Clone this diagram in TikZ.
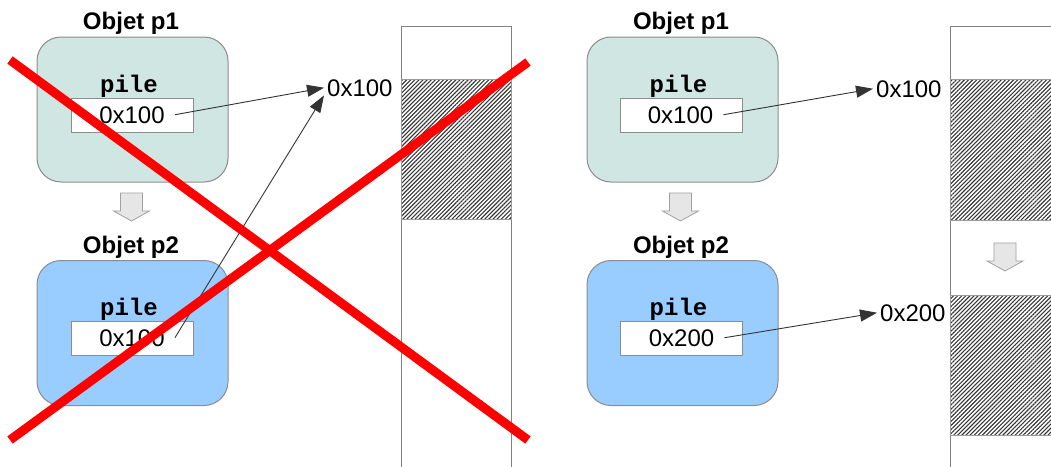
\documentclass[tikz,border=0pt]{standalone}
\usepackage{fontspec}
\setmainfont{Liberation Sans}
\setmonofont{Liberation Mono}
\usetikzlibrary{arrows.meta,patterns.meta}

\definecolor{tealfill}{RGB}{208,230,227}
\definecolor{bluefill}{RGB}{153,204,255}
\definecolor{boxborder}{RGB}{140,140,140}
\definecolor{colborder}{RGB}{130,130,130}
\definecolor{hatch}{RGB}{55,55,55}
\definecolor{movefill}{RGB}{230,230,230}
\definecolor{moveborder}{RGB}{160,160,160}

\tikzset{
  obj/.style={draw=boxborder, line width=1pt, rounded corners=24pt,
    minimum width=191pt, minimum height=145pt, inner sep=0pt},
  slot/.style={draw=boxborder, fill=white, line width=1pt,
    minimum width=122pt, minimum height=34pt, inner sep=0pt},
  title/.style={font=\fontsize{24}{28}\selectfont\bfseries, inner sep=0pt, anchor=base},
  field/.style={font=\fontsize{24}{28}\selectfont\ttfamily\bfseries, inner sep=0pt, anchor=base},
  val/.style={font=\fontsize{24}{28}\selectfont, inner xsep=10pt, inner ysep=0pt, anchor=base},
  addr/.style={font=\fontsize{24}{28}\selectfont, inner xsep=3pt, inner ysep=2pt, anchor=base west},
  ptr/.style={draw=black!80, line width=0.9pt, -{Triangle[length=17pt,width=12pt]}},
  memcol/.style={draw=colborder, line width=1pt},
  used/.style={pattern={Lines[angle=45,distance=2.9pt,line width=1.1pt]},
    pattern color=hatch, draw=colborder!80, line width=0.6pt},
  cross/.style={draw=red, line width=9pt},
  shiftdown/.pic={
    \draw[draw=moveborder, fill=movefill, line width=0.8pt]
      (-11,0) -- (11,0) -- (11,18) -- (18,18) -- (0,28) -- (-18,18) -- (-11,18) -- cycle;
  }
}

\begin{document}
\begin{tikzpicture}[x=1pt, y=-1pt]
\useasboundingbox (0,0) rectangle (1051,466);

% ---------- left: copy that shares the same block ----------
\node[title] (t1) at (131,29) {Objet p1};
\node[obj, fill=tealfill] (o1) at (132.5,109.5) {};
\node[field] (f1) at (129,92) {pile};
\node[slot] (s1) at (132,115) {};
\node[val] (v1) at (132,123) {0x100};

\pic at (131.5,193) {shiftdown};

\node[title] (t2) at (131,253) {Objet p2};
\node[obj, fill=bluefill] (o2) at (132.5,333) {};
\node[field] (f2) at (129,315) {pile};
\node[slot] (s2) at (132,338) {};
\node[val] (v2) at (132,346) {0x100};

\node[addr] (a1) at (324,96) {0x100};

\draw[ptr] (v1.east) -- (a1.west);
\draw[ptr] (v2.east) -- ([yshift=3pt]a1.south west);

% memory column
\path[memcol] (401,470) -- (401,26) -- (511,26) -- (511,470);
\path[used] (401,79) rectangle (511,219);

% red cross
\draw[cross] (10,60) -- (528,440);
\draw[cross] (10,440) -- (528,62);

% ---------- right: copy with its own block ----------
\node[title] (t3) at (681,29) {Objet p1};
\node[obj, fill=tealfill] (o3) at (682.5,109.5) {};
\node[field] (f3) at (678.5,92) {pile};
\node[slot] (s3) at (681.5,115) {};
\node[val] (v3) at (680.5,123) {0x100};

\pic at (680.5,193) {shiftdown};

\node[title] (t4) at (681,253) {Objet p2};
\node[obj, fill=bluefill] (o4) at (682.5,333) {};
\node[field] (f4) at (678.5,315) {pile};
\node[slot] (s4) at (681.5,338) {};
\node[val] (v4) at (681.5,346) {0x200};

\node[addr] (a3) at (873,97) {0x100};
\node[addr] (a4) at (877,321) {0x200};

\draw[ptr] (v3.east) -- (a3.west);
\draw[ptr] (v4.east) -- (a4.west);

% memory column
\path[memcol] (950,470) -- (950,26) -- (1060,26);
\path[used] (950,79) rectangle (1060,220);
\pic at (1005,243) {shiftdown};
\path[used] (950,295) rectangle (1060,435);
\end{tikzpicture}
\end{document}
